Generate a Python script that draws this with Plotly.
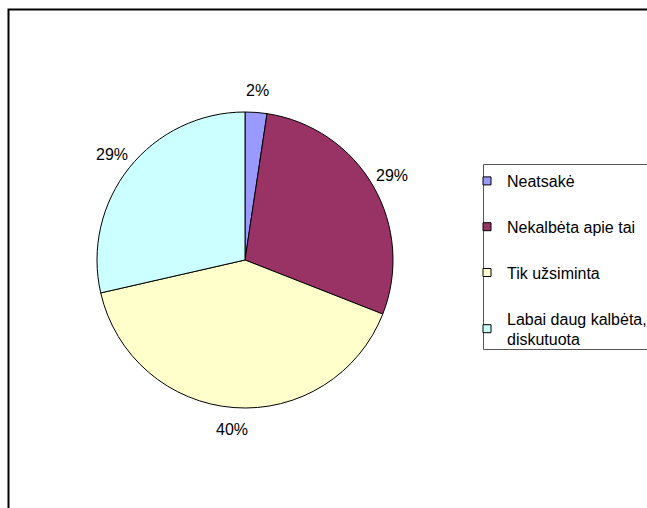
import math
import plotly.graph_objects as go

categories = ["Neatsakė", "Nekalbėta apie tai", "Tik užsiminta", "Labai daug kalbėta,<br>diskutuota"]
values = [1, 12, 17, 12]
colors = ["#9999FF", "#993366", "#FFFFCC", "#CCFFFF"]

W, H = 647, 508
FONT = "Arial, Liberation Sans, sans-serif"

# pie placement (pixels)
CX, CY, R = 245, 260, 148
LABEL_R = 170

fig = go.Figure()
fig.add_trace(go.Pie(
    labels=categories, values=values, sort=False, direction="clockwise", rotation=0,
    marker=dict(colors=colors, line=dict(color="black", width=1)),
    textinfo="none",
    showlegend=False, hoverinfo="label+percent",
    domain=dict(x=[(CX - R) / W, (CX + R) / W], y=[1 - (CY + R) / H, 1 - (CY - R) / H]),
))
for c, col in zip(categories, colors):
    fig.add_trace(go.Scatter(
        x=[None], y=[None], mode="markers", name=c, legendgroup=c,
        marker=dict(symbol="square", size=8, color=col, line=dict(color="black", width=1)),
    ))

# percentage labels placed outside each slice, at its mid-angle
total = sum(values)
annotations = []
cum = 0
for v in values:
    mid = (cum + v / 2) / total * 2 * math.pi
    cum += v
    px = CX + LABEL_R * math.sin(mid)
    py = CY - LABEL_R * math.cos(mid)
    annotations.append(dict(
        x=px / W, y=1 - py / H, xref="paper", yref="paper",
        text=f"{round(100 * v / total)}%", showarrow=False,
        xanchor="center", yanchor="middle",
        font=dict(family=FONT, size=16, color="black"),
    ))

fig.update_layout(
    width=W, height=H, margin=dict(l=0, r=0, t=0, b=0, autoexpand=False),
    paper_bgcolor="white", plot_bgcolor="white",
    xaxis=dict(visible=False), yaxis=dict(visible=False),
    legend=dict(x=467 / W, y=1 - 164 / H, xanchor="left", yanchor="top",
                font=dict(family=FONT, size=16, color="black"),
                tracegroupgap=22, bgcolor="rgba(0,0,0,0)"),
    annotations=annotations,
    shapes=[
        dict(type="rect", xref="paper", yref="paper", x0=8.5 / W, x1=1.2, y0=-0.2, y1=1 - 9.5 / H,
             line=dict(color="black", width=2)),
        dict(type="rect", xref="paper", yref="paper", x0=483.5 / W, x1=1.2, y0=1 - 349.5 / H, y1=1 - 164.5 / H,
             line=dict(color="#555555", width=1)),
    ],
)
fig.write_html("out.html", config={"displayModeBar": False},
               post_script="document.body.style.margin='0';document.body.style.overflow='hidden';")
